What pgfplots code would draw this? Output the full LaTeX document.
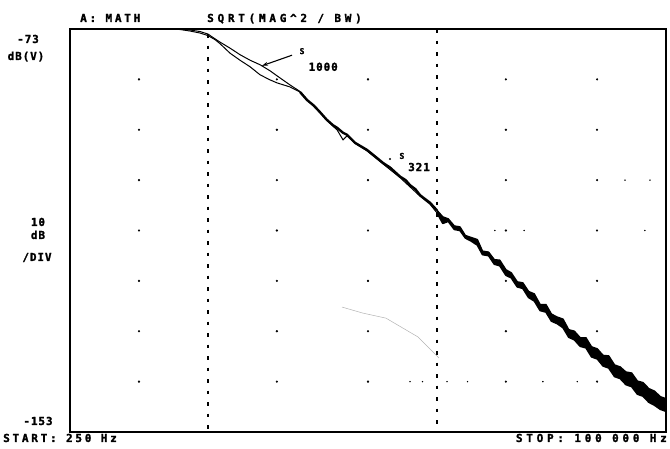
\documentclass[border=0pt]{standalone}
\usepackage{fontspec}
\setmainfont{DejaVu Sans}
\newfontfamily\plotfont[LetterSpace=25,FakeBold=1.6]{DejaVu Sans Mono Bold}
\newfontfamily\plotwide[LetterSpace=34,FakeBold=1.6]{DejaVu Sans Mono Bold}
\newfontfamily\plotnarrow[LetterSpace=8,FakeBold=1.6]{DejaVu Sans Mono Bold}
\usepackage{pgfplots}
\pgfplotsset{compat=1.18}
\usetikzlibrary{arrows.meta}

\begin{document}
\begin{tikzpicture}
\tikzset{
  lbl/.style={font=\plotfont\fontsize{11}{13}\selectfont, inner sep=0pt},
  side/.style={font=\plotnarrow\fontsize{11}{13}\selectfont, inner sep=0pt, anchor=base},
}
\begin{axis}[
  at={(0,0)}, anchor=south west,
  scale only axis,
  width=596pt, height=403pt,
  xmode=log,
  xmin=250, xmax=100000,
  ymin=-153, ymax=-73,
  xtick=\empty, ytick=\empty,
  axis line style={black, line width=1.6pt},
]
% grid dots
\addplot[only marks, mark=*, mark size=0.9pt, black] coordinates {
  (500,-83) (2000,-83) (5000,-83) (20000,-83) (50000,-83)
  (500,-93) (2000,-93) (5000,-93) (20000,-93) (50000,-93)
  (500,-103) (2000,-103) (5000,-103) (20000,-103) (50000,-103)
  (500,-113) (2000,-113) (5000,-113) (20000,-113) (50000,-113)
  (500,-123) (2000,-123) (5000,-123) (20000,-123) (50000,-123)
  (500,-133) (2000,-133) (5000,-133) (20000,-133) (50000,-133)
  (500,-143) (2000,-143) (5000,-143) (20000,-143) (50000,-143)
};
\addplot[only marks, mark=*, mark size=0.5pt, black] coordinates {
  (7630,-143) (8650,-143) (11070,-143) (13600,-143) (29000,-143) (41000,-143)
  (17900,-113) (24000,-113) (80900,-113) (66240,-103) (85100,-103)
};
% cursor lines
\addplot[black, line width=1.4pt, dash pattern=on 3.5pt off 8pt] coordinates {(1000,-74) (1000,-153)};
\addplot[black, line width=1.4pt, dash pattern=on 3.5pt off 8pt] coordinates {(10000,-73) (10000,-153)};
% faint trace
\addplot[gray!60, line width=0.5pt] coordinates {(3850,-128.2) (4750,-129.4) (5990,-130.4) (8240,-134.1) (10200,-138.3)};

% S321
\addplot[black, line width=1pt] coordinates {
  (250,-73.0) (400,-73.0) (600,-73.0) (755,-73.1) (835,-73.4) (924,-73.8) (1000,-74.3)
  (1073,-75.1) (1129,-75.9) (1249,-77.8) (1381,-79.2) (1528,-80.5) (1690,-82.1)
  (1868,-83.1) (2004,-83.7) (2282,-84.5) (2524,-85.5)
};
\addplot[black, line width=2.4pt, line join=round] coordinates {
  (2524,-85.5) (2709,-87.1) (2900,-88.2) (3085,-89.5) (3300,-91.0) (3516,-92.1) (3661,-92.6)
  (3890,-93.6) (4049,-94.0) (4390,-95.6) (4950,-97.0) (5370,-98.3) (5820,-99.6) (6240,-100.5)
  (6900,-102.3) (7300,-103.0) (7630,-104.0) (8050,-104.8) (8440,-106.0) (9330,-107.5) (10000,-109.0)
};
% S1000
\addplot[black, line width=1pt] coordinates {
  (250,-73.0) (600,-73.0) (755,-73.0) (835,-73.2) (924,-73.5) (1000,-74.0) (1129,-75.6)
  (1249,-76.8) (1381,-78.1) (1528,-79.2) (1690,-80.1) (1868,-81.3) (2004,-82.3) (2282,-84.1)
  (2524,-85.4) (2709,-87.0) (3085,-89.6) (3516,-92.3) (3661,-93.0) (3890,-95.0) (4049,-94.2)
  (4390,-95.7) (4950,-97.2) (5820,-99.8) (6900,-102.5) (8440,-106.2) (9330,-107.8) (10000,-109.5)
};
% above 10 kHz: S321 (upper edge) forward, S1000 (lower edge) back, filled
\addplot[black, fill=black, line width=1.5pt, line join=round] coordinates {
  (10000,-109.0) (10600,-110.3) (11200,-110.7) (11900,-112.1) (12600,-112.3) (13300,-114.0)
  (14100,-114.4) (15000,-114.8) (15800,-117.1) (16800,-117.3) (17800,-118.8) (18800,-118.9)
  (20000,-120.8) (21100,-121.4) (22400,-123.2) (23700,-123.4) (25100,-125.1) (26600,-125.6)
  (28200,-127.7) (29900,-127.7) (31600,-129.6) (33500,-130.2) (35500,-130.6) (37600,-132.7)
  (39800,-133.0) (42200,-134.3) (44700,-134.3) (47300,-136.1) (50100,-136.5) (53100,-137.8)
  (56200,-137.9) (59600,-139.7) (63100,-140.1) (66800,-141.1) (70800,-141.3) (75000,-142.9)
  (79400,-143.2) (84100,-144.4) (89100,-144.9) (94400,-146.0) (100000,-146.4)
  (100000,-148.9) (94400,-148.5) (89100,-147.7) (84100,-147.1) (79400,-145.9) (75000,-145.5)
  (70800,-144.0) (66800,-143.6) (63100,-142.4) (59600,-142.0) (56200,-140.3) (53100,-139.9)
  (50100,-138.5) (47300,-138.1) (44700,-136.3) (42200,-136.0) (39800,-134.7) (37600,-134.2)
  (35500,-132.3) (33500,-131.5) (31600,-131.0) (29900,-129.2) (28200,-128.9) (26600,-127.0)
  (25100,-126.3) (23700,-124.5) (22400,-124.2) (21100,-122.4) (20000,-121.9) (18800,-120.0)
  (17800,-119.7) (16800,-118.0) (15800,-117.8) (15000,-115.9) (14100,-115.1) (13300,-114.5)
  (12600,-113.0) (11900,-112.8) (11200,-111.2) (10600,-111.6) (10000,-109.5)
};

% trace labels
\draw[-{Stealth[length=6pt,width=4pt]}, line width=1.1pt] (axis cs:2330,-78.2) -- (axis cs:1722,-80.3);
\node[lbl, font=\plotnarrow\fontsize{8}{9}\selectfont] at (axis cs:2576,-77.4) {S};
\node[lbl, font=\plotnarrow\fontsize{11}{13}\selectfont] at (axis cs:3187,-80.5) {1000};
\node[inner sep=0pt, fill=black, circle, minimum size=2.2pt] at (axis cs:6240,-98.8) {};
\node[lbl, font=\plotnarrow\fontsize{8}{9}\selectfont] at (axis cs:7030,-98.2) {S};
\node[lbl, font=\plotnarrow\fontsize{11}{13}\selectfont] at (axis cs:8350,-100.4) {321};
\end{axis}

% annotations around the frame
\node[lbl, anchor=base west] at (10pt,410pt) {A: MATH};
\node[lbl, font=\plotwide\fontsize{11}{13}\selectfont, anchor=base west] at (137pt,410pt) {SQRT(MAG\textasciicircum 2 / BW)};
\node[side] at (-42pt,389pt) {-73};
\node[side] at (-44pt,372pt) {dB(V)};
\node[side] at (-32pt,206pt) {10};
\node[side] at (-32pt,193pt) {dB};
\node[side] at (-33pt,171pt) {/DIV};
\node[side] at (-32pt,7pt) {-153};
\node[lbl, anchor=base west] at (-67pt,-10pt) {START: 250 Hz};
\node[lbl, font=\plotwide\fontsize{11}{13}\selectfont, anchor=base east] at (597pt,-10pt) {STOP: 100 000 Hz};
\path (-70pt,-17pt) rectangle (600pt,432pt);
\end{tikzpicture}
\end{document}
